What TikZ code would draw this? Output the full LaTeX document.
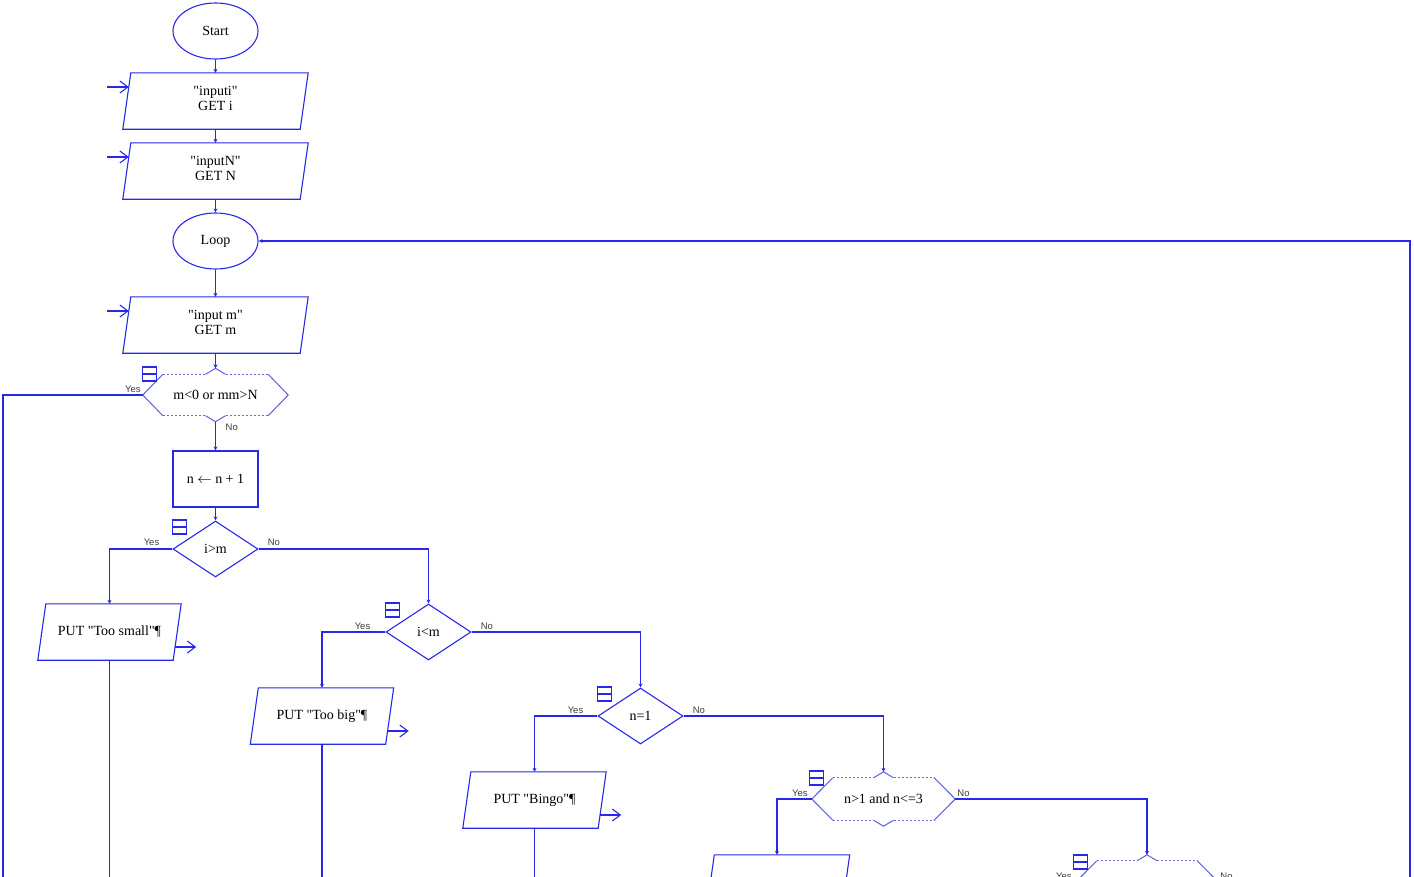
\documentclass[tikz,border=0pt]{standalone}
\usepackage{fontspec}
\setmainfont{Liberation Serif}[Ligatures=TeXOff]
\newfontfamily\labfont{Liberation Sans}
\usetikzlibrary{shapes.geometric,arrows.meta,calc}
\definecolor{fb}{RGB}{40,40,235}
\definecolor{fbl}{RGB}{105,105,225}
\definecolor{labc}{RGB}{60,60,60}
\newcommand\sq{\char34\relax}
\tikzset{
 base/.style={inner sep=0pt, font=\fontsize{14}{15}\selectfont, align=center, text=black},
 term/.style={base, ellipse, draw=fb, line width=1.1pt, minimum width=85pt, minimum height=56pt},
 procbox/.style={base, rectangle, draw=fb, line width=1.1pt, minimum width=85pt, minimum height=56pt},
 dec/.style={base, diamond, draw=fb, line width=1.1pt, minimum width=85pt, minimum height=56pt},
 iobox/.style={base, rectangle, minimum width=#1, minimum height=56pt},
 hexbox/.style={base, rectangle, minimum width=#1, minimum height=41pt},
 flow/.style={draw=fb, line width=1.1pt, -{Stealth[length=4pt,width=4pt]}},
 plain/.style={draw=fb, line width=1.1pt},
 inout/.style={draw=fb, line width=1.1pt, -{Straight Barb[length=8pt,width=12pt]}},
 lab/.style={font=\labfont\fontsize{9.5}{10}\selectfont, text=labc, inner sep=0pt},
 hexside/.style={draw=fbl, line width=1.1pt},
 hexdash/.style={draw=fbl, line width=1pt, dash pattern=on 2pt off 2pt},
 foldicon/.pic={\draw[draw=fb,line width=1.1pt] (0,0) rectangle (14,-14);
   \draw[draw=fb,line width=1.1pt] (0,-7) -- (14,-7);}
}
\newcommand\ioshape[1]{\draw[plain] ([xshift=4pt]#1.north west) -- ([xshift=4pt]#1.north east) -- ([xshift=-4pt]#1.south east) -- ([xshift=-4pt]#1.south west) -- cycle;}
\newcommand\ioshapeup[1]{\draw[plain] ([shift={(4pt,-3pt)}]#1.north west) -- ([shift={(4pt,-3pt)}]#1.north east) -- ([shift={(-4pt,-3pt)}]#1.south east) -- ([shift={(-4pt,-3pt)}]#1.south west) -- cycle;}
\newcommand\hexshape[2]{%
 \draw[hexside] ([xshift=#2]#1.north west) -- (#1.west) -- ([xshift=#2]#1.south west);
 \draw[hexside] ([xshift=-#2]#1.north east) -- (#1.east) -- ([xshift=-#2]#1.south east);
 \draw[hexdash] ([xshift=#2]#1.north west) -- ([xshift=-10pt]#1.north);
 \draw[hexdash] ([xshift=10pt]#1.north) -- ([xshift=-#2]#1.north east);
 \draw[hexdash] ([xshift=#2]#1.south west) -- ([xshift=-10pt]#1.south);
 \draw[hexdash] ([xshift=10pt]#1.south) -- ([xshift=-#2]#1.south east);
 \draw[hexside] ([xshift=-10pt]#1.north) -- ([yshift=6pt]#1.north) -- ([xshift=10pt]#1.north);
 \draw[hexside] ([xshift=-10pt]#1.south) -- ([yshift=-6pt]#1.south) -- ([xshift=10pt]#1.south);
 \coordinate (#1n) at ([yshift=6pt]#1.north);
 \coordinate (#1s) at ([yshift=-6pt]#1.south);
}
\begin{document}
\begin{tikzpicture}[x=1pt,y=-1pt]
\useasboundingbox (0,0) rectangle (1414,876);
\clip (0,0) rectangle (1414,876);
% nodes
\node[term] (start) at (215.5,31) {Start};
\node[iobox=177pt] (p1) at (215.5,98) {\sq inputi\sq\\GET i};
\node[iobox=177pt] (p2) at (215.5,168) {\sq inputN\sq\\GET N};
\node[term] (loop) at (215.5,241) {Loop};
\node[iobox=177pt] (p3) at (215.5,322) {\sq input m\sq\\GET m};
\node[hexbox=145pt] (h1) at (215.5,395) {m<0 or mm>N};
\node[procbox] (b1) at (215.5,479) {n $\leftarrow$ n + 1};
\node[dec] (d1) at (215.5,549) {i>m};
\node[iobox=135pt] (o1) at (109.5,632) {PUT \sq Too small\sq¶};
\node[dec] (d2) at (428.5,632) {i<m};
\node[iobox=135pt] (o2) at (322,716) {PUT \sq Too big\sq¶};
\node[dec] (d3) at (640.5,716) {n=1};
\node[iobox=135pt] (o3) at (534.5,800) {PUT \sq Bingo\sq¶};
\node[hexbox=143pt,minimum height=42pt] (h2) at (883.5,799) {n>1 and n<=3};
\node[iobox=135pt] (o4) at (778,883) {};
\node[hexbox=142pt,minimum height=42pt] (h3) at (1147,882) {};
% shapes
\ioshapeup{p1}\ioshapeup{p2}\ioshapeup{p3}
\ioshape{o1}\ioshape{o2}\ioshape{o3}\ioshape{o4}
\hexshape{h1}{20pt}\hexshape{h2}{21pt}\hexshape{h3}{21pt}
% icons
\pic at ([yshift=14pt]h1.west) {foldicon};
\pic at ([yshift=15pt]d1.west) {foldicon};
\pic at ([yshift=15pt]d2.west) {foldicon};
\pic at ([yshift=15pt]d3.west) {foldicon};
\pic at ([shift={(-2pt,14pt)}]h2.west) {foldicon};
\pic at ([shift={(-2pt,13pt)}]h3.west) {foldicon};
% free ends
\coordinate (lb) at (3,880);
\coordinate (rb) at (1410,880);
% main flow
\draw[flow] (start.south) -- ([yshift=-3pt]p1.north);
\draw[flow] ([yshift=-3pt]p1.south) -- ([yshift=-3pt]p2.north);
\draw[flow] ([yshift=-3pt]p2.south) -- (loop.north);
\draw[flow] (loop.south) -- ([yshift=-3pt]p3.north);
\draw[flow] ([yshift=-3pt]p3.south) -- (h1n);
\draw[flow] (h1s) -- (b1.north);
\draw[plain] (h1.west) -| (lb);
\draw[flow] (b1.south) -- (d1.north);
\draw[flow] (d1.west) -| (o1.north);
\draw[flow] (d1.east) -| (d2.north);
\draw[flow] (d2.west) -| (o2.north);
\draw[flow] (d2.east) -| (d3.north);
\draw[flow] (d3.west) -| (o3.north);
\draw[flow] (d3.east) -| (h2n);
\draw[flow] (h2.west) -| ([xshift=-1pt]o4.north);
\draw[flow] (h2.east) -| (h3n);
\draw[plain] (o1.south) -- (o1.south |- lb);
\draw[plain] (o2.south) -- (o2.south |- lb);
\draw[plain] (o3.south) -- (o3.south |- lb);
\draw[flow] (rb) |- (loop.east);
% input / output arrows
\coordinate (p1i) at ([shift={(-20pt,11pt)}]p1.west);
\coordinate (p2i) at ([shift={(-20pt,11pt)}]p2.west);
\coordinate (p3i) at ([shift={(-20pt,11pt)}]p3.west);
\draw[inout] (p1i) -- ([shift={(2pt,11pt)}]p1.west);
\draw[inout] (p2i) -- ([shift={(2pt,11pt)}]p2.west);
\draw[inout] (p3i) -- ([shift={(2pt,11pt)}]p3.west);
\coordinate (o1o) at ([shift={(19pt,-15pt)}]o1.east);
\coordinate (o2o) at ([shift={(19pt,-15pt)}]o2.east);
\coordinate (o3o) at ([shift={(19pt,-15pt)}]o3.east);
\draw[inout] ([shift={(-2pt,-15pt)}]o1.east) -- (o1o);
\draw[inout] ([shift={(-2pt,-15pt)}]o2.east) -- (o2o);
\draw[inout] ([shift={(-2pt,-15pt)}]o3.east) -- (o3o);
% labels
\node[lab,anchor=south east] at ([shift={(-2pt,2pt)}]h1.west) {Yes};
\node[lab,anchor=north west] at ([shift={(10pt,-2pt)}]h1s) {No};
\node[lab,anchor=south east] at ([shift={(-13pt,3pt)}]d1.west) {Yes};
\node[lab,anchor=south west] at ([shift={(9pt,3pt)}]d1.east) {No};
\node[lab,anchor=south east] at ([shift={(-15pt,2pt)}]d2.west) {Yes};
\node[lab,anchor=south west] at ([shift={(9pt,2pt)}]d2.east) {No};
\node[lab,anchor=south east] at ([shift={(-14pt,2pt)}]d3.west) {Yes};
\node[lab,anchor=south west] at ([shift={(9pt,2pt)}]d3.east) {No};
\node[lab,anchor=south east] at ([shift={(-4pt,2pt)}]h2.west) {Yes};
\node[lab,anchor=south west] at ([shift={(2pt,2pt)}]h2.east) {No};
\node[lab,anchor=south east] at ([shift={(-4pt,2pt)}]h3.west) {Yes};
\node[lab,anchor=south west] at ([shift={(2pt,2pt)}]h3.east) {No};
\end{tikzpicture}
\end{document}
